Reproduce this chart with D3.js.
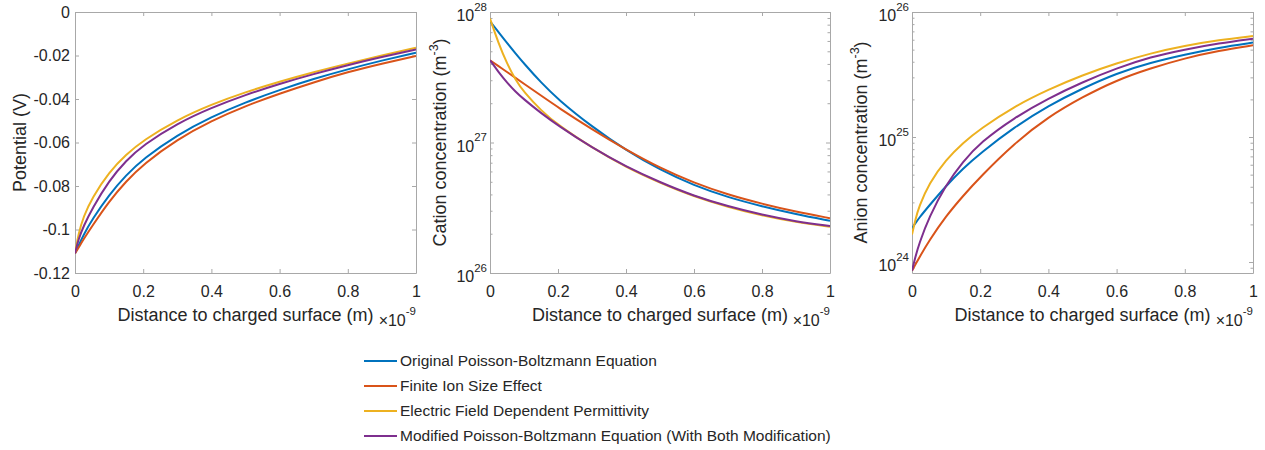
<!DOCTYPE html>
<html><head><meta charset="utf-8">
<script src="https://cdn.jsdelivr.net/npm/d3@7"></script>
<style>
body{margin:0;background:#fff;}
svg text{font-family:"Liberation Sans",Arial,Helvetica,sans-serif;fill:#262626;}
</style></head><body>
<svg id="c" width="1265" height="450"></svg>
<script>
// ---------- data ----------
const seriesNames = [
  "Original Poisson-Boltzmann Equation",
  "Finite Ion Size Effect",
  "Electric Field Dependent Permittivity",
  "Modified Poisson-Boltzmann Equation (With Both Modification)"
];
const seriesColors = ["#0072BD", "#D95319", "#EDB120", "#7E2F8E"];

const xTicks = [0, 0.2, 0.4, 0.6, 0.8, 1];
const xTickLabels = ["0", "0.2", "0.4", "0.6", "0.8", "1"];
const xLabel = "Distance to charged surface (m)";
const xExponent = "-9";

// Potential panel (x in units of 1e-9 m)
const potX = [0, 0.01, 0.025, 0.05, 0.1, 0.15, 0.2, 0.3, 0.4, 0.5, 0.6, 0.7, 0.8, 0.9, 1.0];
const potOriginal = [-0.111, -0.1075, -0.1025, -0.0955, -0.0840, -0.0750, -0.0675, -0.0565, -0.0482, -0.0415, -0.0358, -0.0307, -0.0263, -0.0223, -0.0187];
const potFiniteIon = [-0.111, -0.1085, -0.1045, -0.0985, -0.0870, -0.0778, -0.0700, -0.0585, -0.0500, -0.0432, -0.0375, -0.0323, -0.0276, -0.0237, -0.0202];
const potPermittivity = [-0.111, -0.102, -0.094, -0.0855, -0.0735, -0.0655, -0.0590, -0.0495, -0.0425, -0.0368, -0.0320, -0.0276, -0.0237, -0.0200, -0.0164];
const potModified = [-0.111, -0.1045, -0.0985, -0.0905, -0.0775, -0.0683, -0.0612, -0.0512, -0.0440, -0.0381, -0.0330, -0.0285, -0.0244, -0.0207, -0.0172];
const potTicks = [-0.12, -0.1, -0.08, -0.06, -0.04, -0.02, 0];
const potTickLabels = ["-0.12", "-0.1", "-0.08", "-0.06", "-0.04", "-0.02", "0"];
const potLabel = "Potential (V)";

// Cation concentration panel (m^-3)
const catX = [0, 0.025, 0.05, 0.075, 0.1, 0.15, 0.2, 0.3, 0.4, 0.5, 0.6, 0.7, 0.8, 0.9, 1.0];
const catOriginal = [8.51e27, 7.00e27, 5.79e27, 4.82e27, 4.03e27, 2.88e27, 2.14e27, 1.32e27, 8.71e26, 6.17e26, 4.68e26, 3.80e26, 3.24e26, 2.82e26, 2.51e26];
const catFiniteIon = [4.27e27, 3.85e27, 3.47e27, 3.13e27, 2.82e27, 2.29e27, 1.86e27, 1.26e27, 8.81e26, 6.38e26, 4.90e26, 3.98e26, 3.39e26, 2.95e26, 2.63e26];
const catPermittivity = [8.91e27, 5.75e27, 4.03e27, 3.02e27, 2.43e27, 1.76e27, 1.36e27, 9.12e26, 6.46e26, 4.90e26, 3.85e26, 3.20e26, 2.75e26, 2.45e26, 2.26e26];
const catModified = [4.27e27, 3.47e27, 2.88e27, 2.45e27, 2.14e27, 1.68e27, 1.35e27, 9.12e26, 6.53e26, 4.95e26, 3.89e26, 3.24e26, 2.79e26, 2.48e26, 2.29e26];
const catTicks = [1e26, 1e27, 1e28];
const catTickExps = ["26", "27", "28"];
const catLabel = "Cation concentration (m";

// Anion concentration panel (m^-3)
const anX = [0, 0.01, 0.02, 0.05, 0.1, 0.15, 0.2, 0.3, 0.4, 0.5, 0.6, 0.7, 0.8, 0.9, 1.0];
const anOriginal = [1.86e24, 2.04e24, 2.24e24, 2.82e24, 4.07e24, 5.62e24, 7.41e24, 1.20e25, 1.78e25, 2.45e25, 3.24e25, 3.94e25, 4.57e25, 5.19e25, 5.69e25];
const anFiniteIon = [8.51e23, 9.55e23, 1.07e24, 1.48e24, 2.34e24, 3.39e24, 4.79e24, 8.91e24, 1.45e25, 2.09e25, 2.85e25, 3.55e25, 4.27e25, 4.90e25, 5.41e25];
const anPermittivity = [1.66e24, 2.19e24, 2.75e24, 4.27e24, 6.61e24, 9.02e24, 1.16e25, 1.76e25, 2.40e25, 3.13e25, 3.89e25, 4.68e25, 5.37e25, 5.96e25, 6.43e25];
const anModified = [8.51e23, 1.10e24, 1.38e24, 2.29e24, 4.17e24, 6.38e24, 9.02e24, 1.43e25, 2.04e25, 2.75e25, 3.55e25, 4.37e25, 5.01e25, 5.62e25, 6.12e25];
const anTicks = [1e24, 1e25, 1e26];
const anTickExps = ["24", "25", "26"];
const anLabel = "Anion concentration (m";
const concExponent = "-3";

// ---------- layout ----------
const AXC = "#a8a8a8";
const FONT = 16;
const LABFONT = 18;
const svg = d3.select("#c");

const panels = [
  { id: 1, left: 75, right: 416, top: 12, bottom: 273, log: false, domain: [-0.12, 0],
    xs: potX, series: [potOriginal, potFiniteIon, potPermittivity, potModified],
    ticks: potTicks, tickLabels: potTickLabels, ylabel: potLabel, ylabelX: 20 },
  { id: 2, left: 490, right: 830, top: 12, bottom: 273, log: true, domain: [1e26, 1e28],
    xs: catX, series: [catOriginal, catFiniteIon, catPermittivity, catModified],
    ticks: catTicks, tickExps: catTickExps, ylabel: catLabel, ylabelX: 440 },
  { id: 3, left: 912, right: 1253, top: 12, bottom: 273, log: true, domain: [8.17e23, 1e26],
    xs: anX, series: [anOriginal, anFiniteIon, anPermittivity, anModified],
    ticks: anTicks, tickExps: anTickExps, ylabel: anLabel, ylabelX: 861 }
];

function styleAxis(g) {
  g.selectAll(".domain").attr("stroke", AXC).attr("stroke-width", 1);
  g.selectAll(".tick line").attr("stroke", AXC).attr("stroke-width", 1);
  g.selectAll("text").attr("font-size", FONT).attr("fill", "#262626")
    .attr("font-family", "Liberation Sans, Arial, sans-serif");
}

function minorTicks(domain) {
  const out = [];
  const lo = Math.floor(Math.log10(domain[0])), hi = Math.ceil(Math.log10(domain[1]));
  for (let e = lo; e < hi; e++) for (let m = 2; m <= 9; m++) {
    const v = m * Math.pow(10, e);
    if (v >= domain[0] && v <= domain[1]) out.push(v);
  }
  return out;
}

panels.forEach(p => {
  const x = d3.scaleLinear().domain([0, 1]).range([p.left, p.right]);
  const y = (p.log ? d3.scaleLog() : d3.scaleLinear()).domain(p.domain).range([p.bottom, p.top]);
  const g = svg.append("g");

  // axes (box with inward ticks)
  const gb = g.append("g").attr("transform", `translate(0,${p.bottom})`)
    .call(d3.axisBottom(x).tickValues(xTicks).tickFormat((d, i) => xTickLabels[i])
      .tickSizeInner(-4).tickSizeOuter(0).tickPadding(13));
  styleAxis(gb);
  const gt = g.append("g").attr("transform", `translate(0,${p.top})`)
    .call(d3.axisTop(x).tickValues(xTicks).tickFormat("").tickSizeInner(-4).tickSizeOuter(0));
  styleAxis(gt);

  const gl = g.append("g").attr("transform", `translate(${p.left},0)`)
    .call(d3.axisLeft(y).tickValues(p.ticks).tickFormat("").tickSizeInner(-4).tickSizeOuter(0).tickPadding(p.log ? 3 : 5));
  styleAxis(gl);
  const gr = g.append("g").attr("transform", `translate(${p.right},0)`)
    .call(d3.axisRight(y).tickValues(p.ticks).tickFormat("").tickSizeInner(-4).tickSizeOuter(0));
  styleAxis(gr);

  if (p.log) {
    const mins = minorTicks(p.domain);
    const gml = g.append("g").attr("transform", `translate(${p.left},0)`)
      .call(d3.axisLeft(y).tickValues(mins).tickFormat("").tickSizeInner(-2.5).tickSizeOuter(0));
    styleAxis(gml); gml.select(".domain").remove();
    const gmr = g.append("g").attr("transform", `translate(${p.right},0)`)
      .call(d3.axisRight(y).tickValues(mins).tickFormat("").tickSizeInner(-2.5).tickSizeOuter(0));
    styleAxis(gmr); gmr.select(".domain").remove();
    gl.selectAll(".tick text").each(function (d, i) {
      const t = d3.select(this).text("").attr("dy", "0.55em");
      t.append("tspan").text("10");
      t.append("tspan").attr("font-size", 11.5).attr("dy", -10.5).text(p.tickExps[i]);
    });
  } else {
    gl.selectAll(".tick text").each(function (d, i) {
      d3.select(this).text(p.tickLabels[i]);
    });
  }

  // data lines
  const clipId = "clip" + p.id;
  svg.append("clipPath").attr("id", clipId).append("rect")
    .attr("x", p.left).attr("y", p.top - 1).attr("width", p.right - p.left).attr("height", p.bottom - p.top + 2);
  const line = d3.line().x((d, i) => x(p.xs[i])).y(d => y(d)).curve(d3.curveBasis);
  p.series.forEach((s, k) => {
    g.append("path").attr("d", line(s)).attr("fill", "none")
      .attr("stroke", seriesColors[k]).attr("stroke-width", 2)
      .attr("clip-path", `url(#${clipId})`);
  });

  // x label
  const cx = (p.left + p.right) / 2;
  g.append("text").attr("x", cx).attr("y", 321).attr("text-anchor", "middle")
    .attr("font-size", LABFONT).text(xLabel);
  const ex = g.append("text").attr("x", p.right).attr("y", 326).attr("text-anchor", "end")
    .attr("font-size", FONT);
  ex.append("tspan").text("\u00d710");
  ex.append("tspan").attr("font-size", 11.5).attr("dy", -11).text(xExponent);

  // y label
  const cy = (p.top + p.bottom) / 2;
  const yl = g.append("text").attr("transform", `translate(${p.ylabelX},${cy}) rotate(-90)`)
    .attr("text-anchor", "middle").attr("dy", "0.35em").attr("font-size", LABFONT);
  yl.append("tspan").text(p.ylabel);
  if (p.log) {
    yl.append("tspan").attr("font-size", 12.5).attr("dy", -8).text(concExponent);
    yl.append("tspan").attr("dy", 8).text(")");
  }
});

// legend
const legY = d3.scalePoint().domain(seriesNames).range([361, 436]);
const lg = svg.append("g");
seriesNames.forEach((n, k) => {
  lg.append("line").attr("x1", 364).attr("x2", 397).attr("y1", legY(n)).attr("y2", legY(n))
    .attr("stroke", seriesColors[k]).attr("stroke-width", 2);
  lg.append("text").attr("x", 400).attr("y", legY(n)).attr("dy", "0.35em")
    .attr("font-size", 15.5).text(n);
});
</script>
</body></html>
